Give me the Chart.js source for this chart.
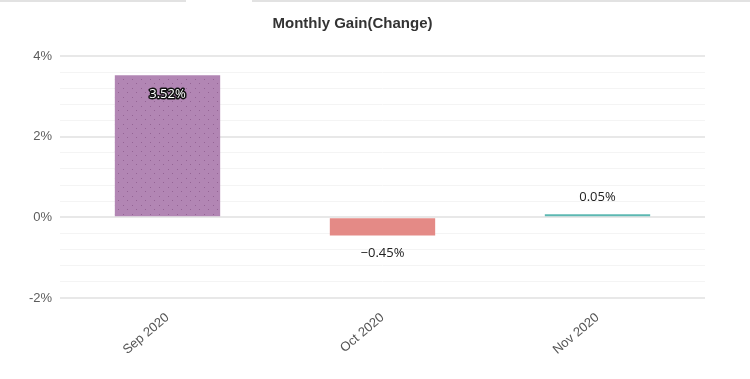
<!DOCTYPE html>
<html>
<head>
<meta charset="utf-8">
<script src="https://cdn.jsdelivr.net/npm/chart.js@4/dist/chart.umd.min.js"></script>
<style>
  html, body { margin: 0; padding: 0; background: #fff; }
  #wrap { position: relative; width: 750px; height: 379px; }
  #tabL { position: absolute; left: 0; top: 0; width: 186px; height: 2px; background: #e2e2e2; }
  #tabR { position: absolute; left: 252px; top: 0; width: 498px; height: 2px; background: #e2e2e2; }
  canvas { position: absolute; left: 0; top: 0; }
</style>
</head>
<body>
<div id="wrap">
  <canvas id="c" width="750" height="379"></canvas>
  <div id="tabL"></div><div id="tabR"></div>
</div>
<script>
const categories = ["Sep 2020", "Oct 2020", "Nov 2020"];
const gains = [3.52, -0.45, 0.05];
const barColors = ["#b286b4", "#e48a86", "#5cb8b2"];
const yMin = -2, yMax = 4, yStep = 0.4;

function fmt(v) {
  const s = Math.abs(v).toFixed(2) + "%";
  return v < 0 ? "\u2212" + s : s;
}

// dotted texture for the first bar
function makePattern(color) {
  const p = document.createElement("canvas");
  p.width = 9; p.height = 9;
  const g = p.getContext("2d");
  g.fillStyle = color; g.fillRect(0, 0, 9, 9);
  g.fillStyle = "rgba(110,60,110,0.45)";
  g.fillRect(1, 2, 1, 1);
  g.fillRect(6, 7, 1, 1);
  return g.createPattern(p, "repeat");
}

const valueLabels = {
  id: "valueLabels",
  afterDatasetsDraw(chart) {
    const ctx = chart.ctx;
    const meta = chart.getDatasetMeta(0);
    ctx.save();
    ctx.font = "13px 'Open Sans', sans-serif";
    ctx.textAlign = "center";
    ctx.textBaseline = "middle";
    meta.data.forEach((bar, i) => {
      const v = gains[i];
      const txt = fmt(v);
      if (i === 0) {
        const y = bar.y + 19;
        ctx.lineWidth = 3;
        ctx.strokeStyle = "#111";
        ctx.lineJoin = "round";
        ctx.strokeText(txt, bar.x, y);
        ctx.fillStyle = "#fff";
        ctx.fillText(txt, bar.x, y);
      } else if (v < 0) {
        ctx.fillStyle = "#222";
        ctx.fillText(txt, bar.x, bar.y + 18);
      } else {
        ctx.fillStyle = "#222";
        ctx.fillText(txt, bar.x, bar.y - 17);
      }
    });
    ctx.restore();
  }
};

const ctx = document.getElementById("c").getContext("2d");
const colors = barColors.map((c, i) => i === 0 ? makePattern(c) : c);

new Chart(ctx, {
  type: "bar",
  data: {
    labels: categories,
    datasets: [{
      data: gains,
      backgroundColor: colors,
      borderWidth: 0,
      barPercentage: 0.49,
      categoryPercentage: 1.0,
      minBarLength: 3
    }]
  },
  options: {
    responsive: false,
    animation: false,
    devicePixelRatio: 1,
    layout: { padding: { left: 0, right: 45, top: 0, bottom: 0 } },
    plugins: {
      legend: { display: false },
      tooltip: { enabled: false },
      title: {
        display: true,
        text: "Monthly Gain(Change)",
        color: "#333",
        font: { family: "'Liberation Sans', Arial, sans-serif", size: 15, weight: "bold" },
        padding: { top: 15, bottom: 23 }
      }
    },
    scales: {
      x: {
        grid: { display: false },
        border: { display: false },
        ticks: {
          color: "#555",
          font: { family: "'Liberation Sans', Arial, sans-serif", size: 13 },
          minRotation: 40,
          maxRotation: 40,
          padding: 4
        },
        afterFit(scale) { scale.height = 81; }
      },
      y: {
        min: yMin,
        max: yMax,
        border: { display: false },
        afterBuildTicks(scale) {
          const t = [];
          for (let k = 0; k <= Math.round((yMax - yMin) / yStep); k++) {
            t.push({ value: +(yMin + k * yStep).toFixed(4) });
          }
          scale.ticks = t;
        },
        grid: {
          drawTicks: false,
          color(c) {
            const v = c.tick ? c.tick.value : 0;
            return Math.abs(v / 2 - Math.round(v / 2)) < 1e-6 ? "#e8e8e8" : "#f4f4f4";
          },
          lineWidth(c) {
            const v = c.tick ? c.tick.value : 0;
            return Math.abs(v / 2 - Math.round(v / 2)) < 1e-6 ? 2 : 1;
          }
        },
        ticks: {
          autoSkip: false,
          color: "#5c5c5c",
          font: { family: "'Liberation Sans', Arial, sans-serif", size: 13 },
          padding: 8,
          callback(v) {
            return Math.abs(v / 2 - Math.round(v / 2)) < 1e-6 ? Math.round(v) + "%" : "";
          }
        },
        afterFit(scale) { scale.width = 60; }
      }
    }
  },
  plugins: [valueLabels]
});
</script>
</body>
</html>
